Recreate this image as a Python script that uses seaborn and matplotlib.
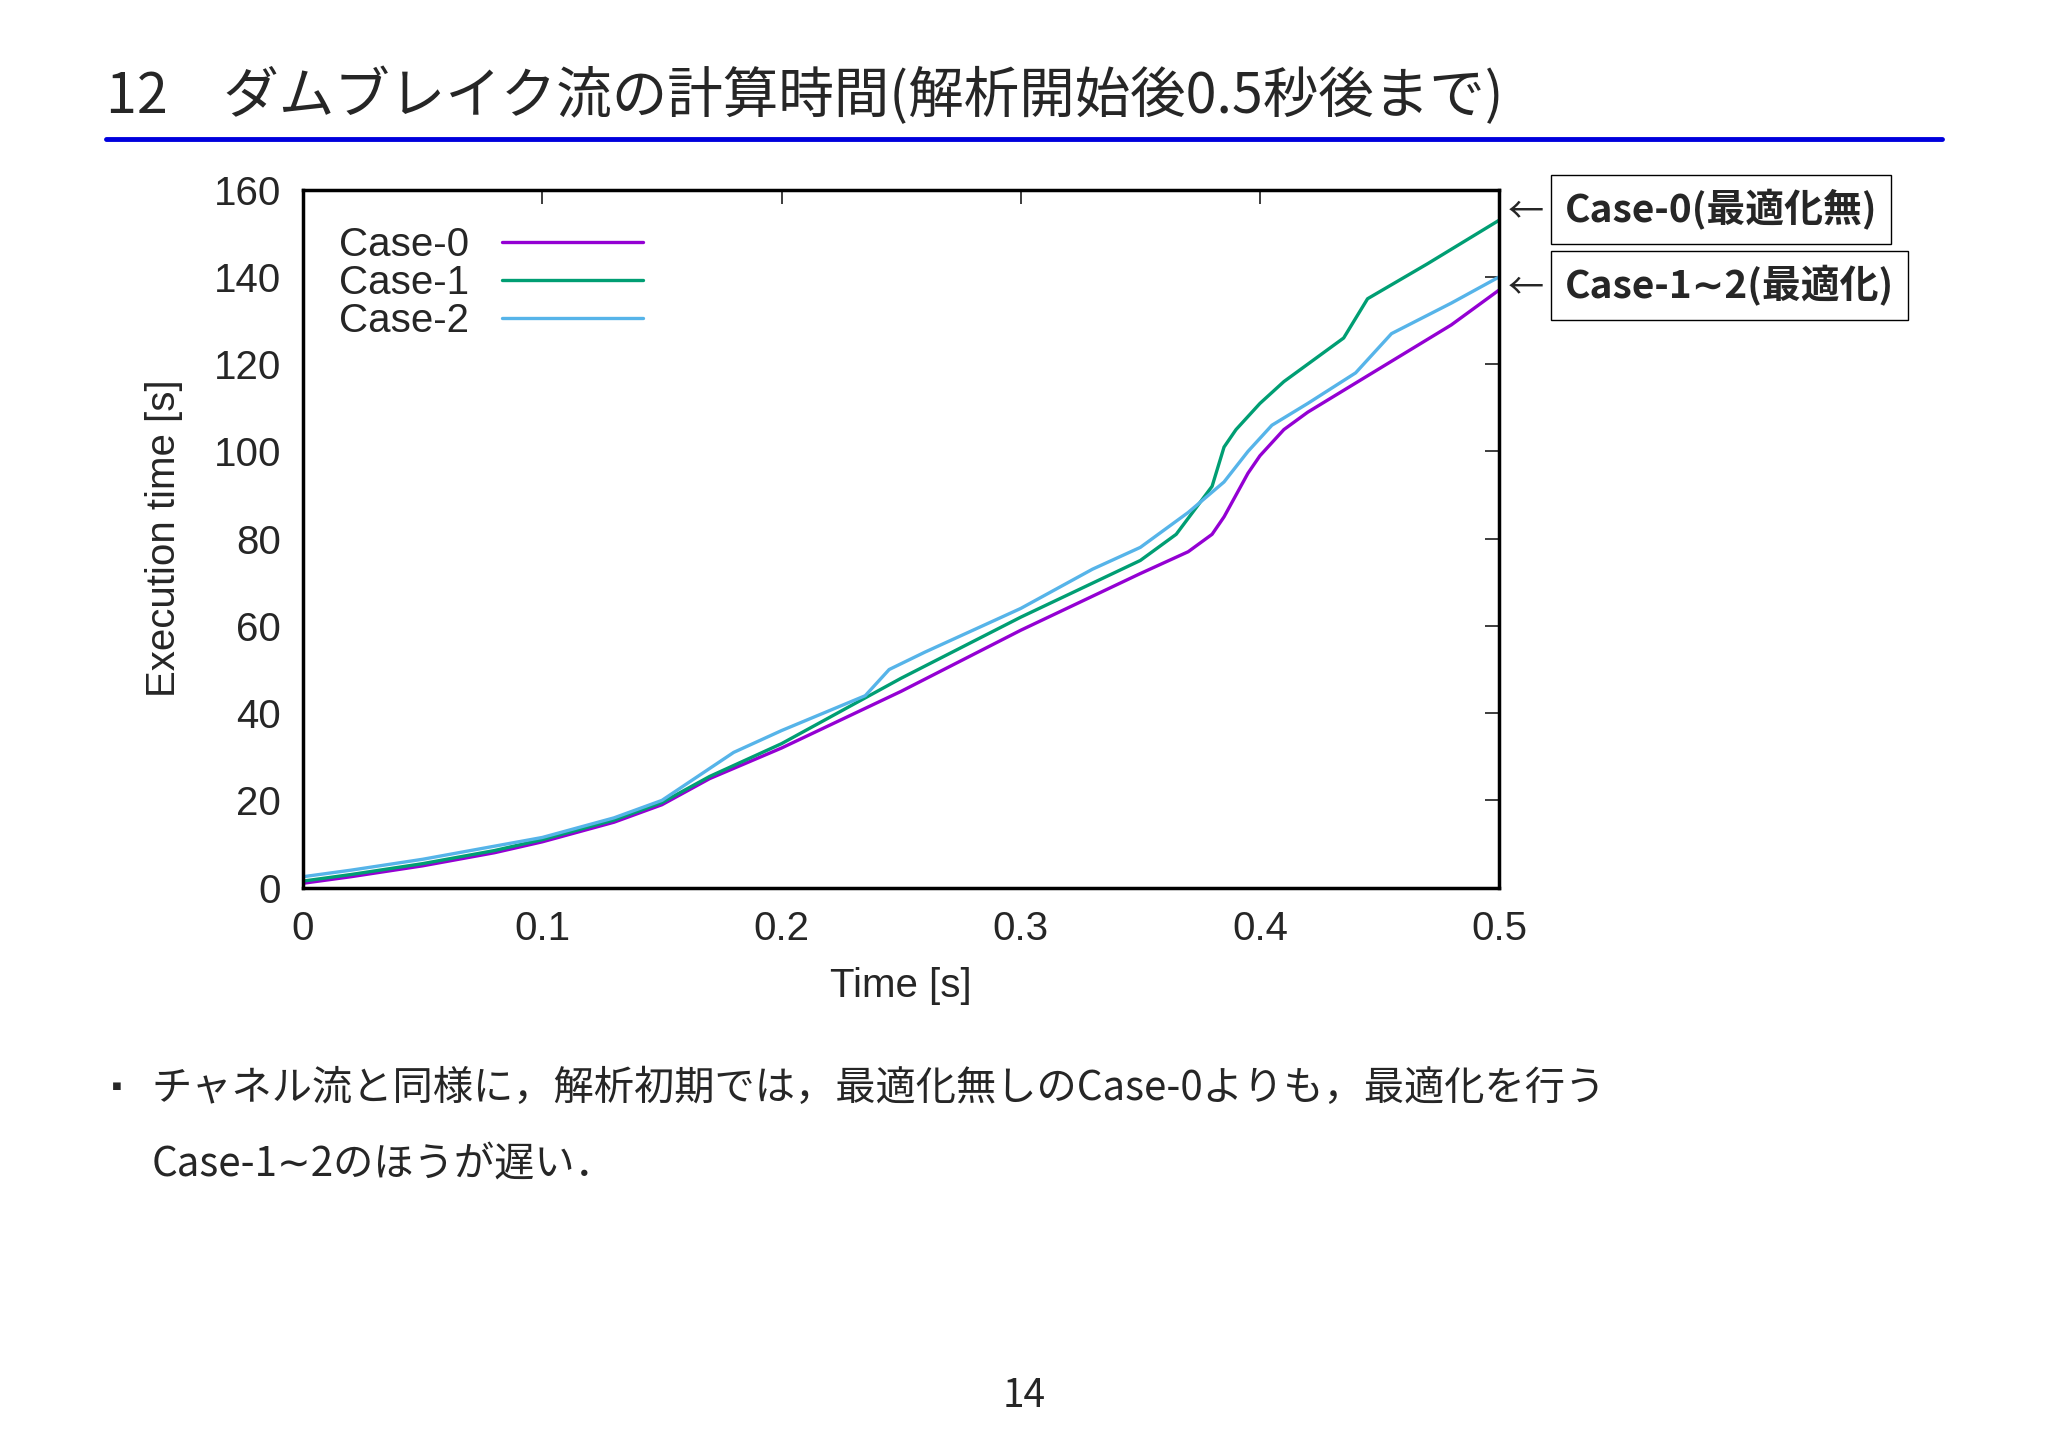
import matplotlib
matplotlib.use("Agg")
import matplotlib.pyplot as plt
import seaborn as sns
import pandas as pd

sns.set_theme(style="white")
plt.rcParams['font.family'] = ['Noto Sans CJK JP', 'DejaVu Sans']

t0 = [0, 0.02, 0.05, 0.08, 0.1, 0.13, 0.15, 0.17, 0.2, 0.25, 0.3, 0.35, 0.37, 0.38, 0.385, 0.39, 0.395, 0.4, 0.41, 0.42, 0.45, 0.48, 0.5]
c0 = [1, 2.5, 5, 8, 10.5, 15, 19, 25, 32, 45, 59, 72, 77, 81, 85, 90, 95, 99, 105, 109, 119, 129, 137]
t1 = [0, 0.02, 0.05, 0.08, 0.1, 0.13, 0.15, 0.17, 0.2, 0.25, 0.3, 0.35, 0.365, 0.38, 0.385, 0.39, 0.4, 0.41, 0.42, 0.435, 0.445, 0.47, 0.5]
c1 = [1.5, 3, 5.5, 8.5, 11, 15.5, 19.5, 25.5, 33, 48, 62, 75, 81, 92, 101, 105, 111, 116, 120, 126, 135, 143, 153]
t2 = [0, 0.02, 0.05, 0.08, 0.1, 0.13, 0.15, 0.18, 0.2, 0.235, 0.245, 0.26, 0.3, 0.33, 0.35, 0.37, 0.385, 0.395, 0.405, 0.42, 0.44, 0.445, 0.455, 0.48, 0.5]
c2 = [2.5, 4, 6.5, 9.5, 11.5, 16, 20, 31, 36, 44, 50, 54, 64, 73, 78, 86, 93, 100, 106, 111, 118, 121, 127, 134, 140]

df = pd.concat([
    pd.DataFrame({"t": t0, "v": c0, "case": "Case-0"}),
    pd.DataFrame({"t": t1, "v": c1, "case": "Case-1"}),
    pd.DataFrame({"t": t2, "v": c2, "case": "Case-2"}),
])
colors = {"Case-0": "#9400d3", "Case-1": "#009e73", "Case-2": "#56b4e9"}

fig = plt.figure(figsize=(20.48, 14.48), dpi=100)
ax = fig.add_axes([0.148, 0.387, 0.584, 0.482])
sns.lineplot(data=df, x="t", y="v", hue="case", palette=colors, ax=ax, linewidth=2.4, estimator=None, sort=False)
ax.set_xlim(0, 0.5); ax.set_ylim(0, 160)
ax.set_xticks([0, 0.1, 0.2, 0.3, 0.4, 0.5]); ax.set_xticklabels(["0", "0.1", "0.2", "0.3", "0.4", "0.5"])
ax.set_yticks(range(0, 161, 20))
ax.tick_params(labelsize=29, direction="in", length=10, top=True, right=True, pad=16)
for s in ax.spines.values():
    s.set_color("black"); s.set_linewidth(2.5)
ax.set_xlabel("Time [s]", fontsize=29, family="Liberation Sans", labelpad=14)
ax.set_ylabel("Execution time [s]", fontsize=29, family="Liberation Sans", labelpad=22)
for lab in ax.get_xticklabels() + ax.get_yticklabels():
    lab.set_family("Liberation Sans")
ax.legend(loc="upper left", frameon=False, markerfirst=False, handlelength=3.5,
          prop={"family": "Liberation Sans", "size": 29}, labelspacing=0.0)

fig.text(0.052, 0.933, "12　ダムブレイク流の計算時間(解析開始後0.5秒後まで)", fontsize=40, va="center")
fig.add_artist(plt.Line2D([0.052, 0.948], [0.904, 0.904], color="#0000dd", linewidth=3.5))
fig.text(0.736, 0.853, "←", fontsize=26, va="center")
fig.text(0.736, 0.801, "←", fontsize=26, va="center")
fig.text(0.764, 0.855, "Case-0(最適化無)", fontsize=28, fontweight="bold", va="center",
         bbox=dict(facecolor="white", edgecolor="black", pad=10))
fig.text(0.764, 0.803, "Case-1∼2(最適化)", fontsize=28, fontweight="bold", va="center",
         family=["Noto Sans CJK JP", "DejaVu Sans"],
         bbox=dict(facecolor="white", edgecolor="black", pad=10))
fig.text(0.05, 0.248, "▪", fontsize=20, va="center")
fig.text(0.074, 0.248, "チャネル流と同様に，解析初期では，最適化無しのCase-0よりも，最適化を行う", fontsize=29, va="center")
fig.text(0.074, 0.196, "Case-1∼2のほうが遅い．", fontsize=29, va="center")
fig.text(0.5, 0.036, "14", fontsize=28, ha="center", va="center")
fig.savefig("out.png", dpi=100)
